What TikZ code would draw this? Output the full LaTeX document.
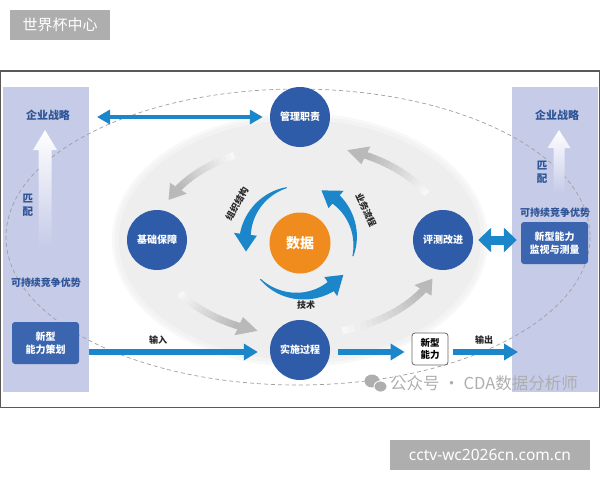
\documentclass[tikz,border=0pt]{standalone}
\usepackage{fontspec}
\setmainfont{Noto Sans CJK SC}
\newfontfamily\latinsans{Noto Sans}
\usetikzlibrary{arrows.meta,calc}
\definecolor{panelc}{HTML}{C6CBE8}
\definecolor{boxc}{HTML}{3B65AF}
\definecolor{circc}{HTML}{2E5CA8}
\definecolor{bluearr}{HTML}{1B87CA}
\definecolor{orangec}{HTML}{F08C1E}
\definecolor{textblue}{HTML}{2D5496}
\definecolor{wmgray}{HTML}{AEAEAE}
\definecolor{innerbg}{HTML}{EEEEEE}
\newcommand\tarc[2]{%
  \pgfmathsetmacro\tbq{#2-18}%
  \fill[bluearr] plot[domain=#1:\tbq,samples=30,variable=\aq]
    ({300+(55+0.5+5*(\aq-#1)/(\tbq-#1))*cos(\aq)},{241-(55+0.5+5*(\aq-#1)/(\tbq-#1))*sin(\aq)})
    -- ({300+66.5*cos(\tbq)},{241-66.5*sin(\tbq)})
    -- ({300+55*cos(#2)},{241-55*sin(#2)})
    -- ({300+43.5*cos(\tbq)},{241-43.5*sin(\tbq)})
    -- plot[domain=\tbq:#1,samples=30,variable=\aq]
    ({300+(55-0.5-5*(\aq-#1)/(\tbq-#1))*cos(\aq)},{241-(55-0.5-5*(\aq-#1)/(\tbq-#1))*sin(\aq)})
    -- cycle;}
\newcommand\garc[2]{%
  \pgfmathsetmacro\gbq{#2-8}%
  \foreach \iq in {0,...,15}{%
    \pgfmathsetmacro\gaq{#1+(\gbq-#1)*\iq/16}%
    \pgfmathsetmacro\gcq{#1+(\gbq-#1)*(\iq+1.2)/16}%
    \pgfmathsetmacro\gpq{6+49*\iq/15}%
    \draw[gray!\gpq, line width=7pt, line cap=butt]
      plot[domain=\gaq:\gcq,samples=4,variable=\aq] ({300+145*cos(\aq)},{240-95*sin(\aq)});
  }%
  \fill[gray!55] ({300+155*cos(\gbq)},{240-105*sin(\gbq)})
    -- ({300+145*cos(#2)},{240-95*sin(#2)})
    -- ({300+135*cos(\gbq)},{240-85*sin(\gbq)}) -- cycle;}
\begin{document}
\begin{tikzpicture}[x=1pt,y=-1pt,
  bigcirc/.style={circle, fill=circc, minimum size=60pt, inner sep=0pt, text=white, font=\bfseries\fontsize{10}{11}\selectfont},
  panelbox/.style={rounded corners=3pt, fill=boxc, text=white, align=center, font=\bfseries\fontsize{10}{13}\selectfont, inner sep=0pt},
  paneltext/.style={text=textblue, font=\bfseries\fontsize{10}{12}\selectfont, inner sep=0pt},
  arrlabel/.style={text=black!85, font=\bfseries\fontsize{9}{10}\selectfont, inner sep=0pt},
  blueline/.style={draw=bluearr, line width=#1},
  wmbox/.style={fill=wmgray, text=white, inner sep=0pt}
]
\useasboundingbox (0,0) rectangle (600,480);
% watermark boxes
\node[wmbox, minimum width=100pt, minimum height=30pt, font=\fontsize{15}{16}\selectfont] (wm1) at (60,25) {世界杯中心};
\node[wmbox, minimum width=200pt, minimum height=30pt, font=\latinsans\fontsize{15.5}{16}\selectfont] (wm2) at (490,455) {cctv-wc2026cn.com.cn};
% frame
\draw[black!65, line width=1.2pt] (0.6,71) rectangle (599.2,407.2);
% panels
\fill[panelc] (3,87) rectangle (89,392);
\fill[panelc] (512,87) rectangle (598,392);
\coordinate (lpE) at (89,0);
\coordinate (rpW) at (512,0);
% big dashed ellipse
\draw[gray!75, line width=0.7pt, dash pattern=on 4pt off 3pt] (298,237) ellipse [x radius=292, y radius=148];
% inner ellipse with soft edge
\fill[innerbg!40] (300,240) ellipse [x radius=188, y radius=127];
\fill[innerbg!70] (300,240) ellipse [x radius=185, y radius=124];
\fill[innerbg] (300,240) ellipse [x radius=181, y radius=120];
% gray loop arrows
\garc{117}{155}
\garc{214}{253}
\garc{287}{336}
\garc{29}{71}
% blue arcs around data
\tarc{104}{191}
\tarc{-16}{67}
\tarc{224}{322}
% arc labels
\node[arrlabel, rotate=60] (lorg) at (237,204) {组织结构};
\node[arrlabel, rotate=-65] (lbiz) at (366,210) {业务流程};
\node[arrlabel] (ltech) at (306,305) {技术};
% circles
\node[bigcirc] (gl) at (300,117) {管理职责};
\node[bigcirc] (jc) at (157,240) {基础保障};
\node[bigcirc] (pc) at (443,240) {评测改进};
\node[bigcirc] (ss) at (300,350) {实施过程};
\node[circle, fill=orangec, minimum size=61pt, inner sep=0pt, text=white, font=\bfseries\fontsize{14}{15}\selectfont] (data) at (300,243) {数据};
% left panel contents
\node[paneltext, font=\bfseries\fontsize{11}{12}\selectfont] (lstrat) at (48,115) {企业战略};
\shade[top color=white, bottom color=panelc] (45,130) -- (57,150) -- (51.5,150) -- (51.5,247) -- (38.5,247) -- (38.5,150) -- (33,150) -- cycle;
\node[paneltext, align=center, font=\bfseries\fontsize{10.5}{13.5}\selectfont] (lmatch) at (28,205) {匹\\配};
\node[paneltext] (ladv) at (46,283) {可持续竞争优势};
\node[panelbox, minimum width=67pt, minimum height=42pt] (lbox) at (45.5,343) {新型\\能力策划};
% right panel contents
\node[paneltext, font=\bfseries\fontsize{11}{12}\selectfont] (rstrat) at (557,115) {企业战略};
\shade[top color=white, bottom color=panelc] (559,130) -- (570.5,148) -- (564.5,148) -- (564.5,193) -- (553.5,193) -- (553.5,148) -- (547.5,148) -- cycle;
\node[paneltext, align=center, font=\bfseries\fontsize{10.5}{13.5}\selectfont] (rmatch) at (542,172) {匹\\配};
\node[paneltext] (radv) at (555,213) {可持续竞争优势};
\node[panelbox, minimum width=67pt, minimum height=42pt] (rbox) at (554.5,243) {新型能力\\监视与测量};
% new capability box
\node[draw=black!60, line width=0.8pt, fill=white, rounded corners=3pt, minimum width=36pt, minimum height=32pt, align=center, inner sep=0pt, font=\bfseries\fontsize{9.5}{12}\selectfont] (newcap) at (430,349) {新型\\能力};
% blue arrows
\draw[blueline=4pt, {Triangle[length=13pt,width=14pt]}-{Triangle[length=13pt,width=14pt]}]
  ([xshift=8pt]lpE |- gl) -- ([xshift=-7pt]gl.west);
\draw[blueline=6pt, -{Triangle[length=14pt,width=16pt]}]
  (lpE |- 0,352) -- ([xshift=-12pt]ss.west |- 0,352);
\draw[blueline=6pt, -{Triangle[length=14pt,width=16pt]}]
  ([xshift=8pt]ss.east |- 0,352) -- ([xshift=-7pt]newcap.west |- 0,352);
\draw[blueline=6pt, -{Triangle[length=14pt,width=16pt]}]
  ([xshift=5pt]newcap.east |- 0,352) -- ([xshift=6pt]rpW |- 0,352);
\draw[blueline=9pt, {Triangle[length=13pt,width=24pt]}-{Triangle[length=13pt,width=24pt]}]
  ([xshift=5pt]pc.east) -- ([xshift=-4pt]rbox.west |- pc);
\node[arrlabel] (lin) at (158,340) {输入};
\node[arrlabel] (lout) at (484,340) {输出};
% wechat watermark
\fill[wmgray] (372,381) ellipse [x radius=7.5, y radius=6.5];
\filldraw[fill=wmgray, draw=white, line width=0.8pt] (380.5,386.5) ellipse [x radius=6.5, y radius=5.5];
\node[text=wmgray, inner sep=0pt, anchor=west, font=\fontsize{16.5}{17}\selectfont] (wmtext) at (390,383) {公众号 · CDA数据分析师};
\end{tikzpicture}
\end{document}
